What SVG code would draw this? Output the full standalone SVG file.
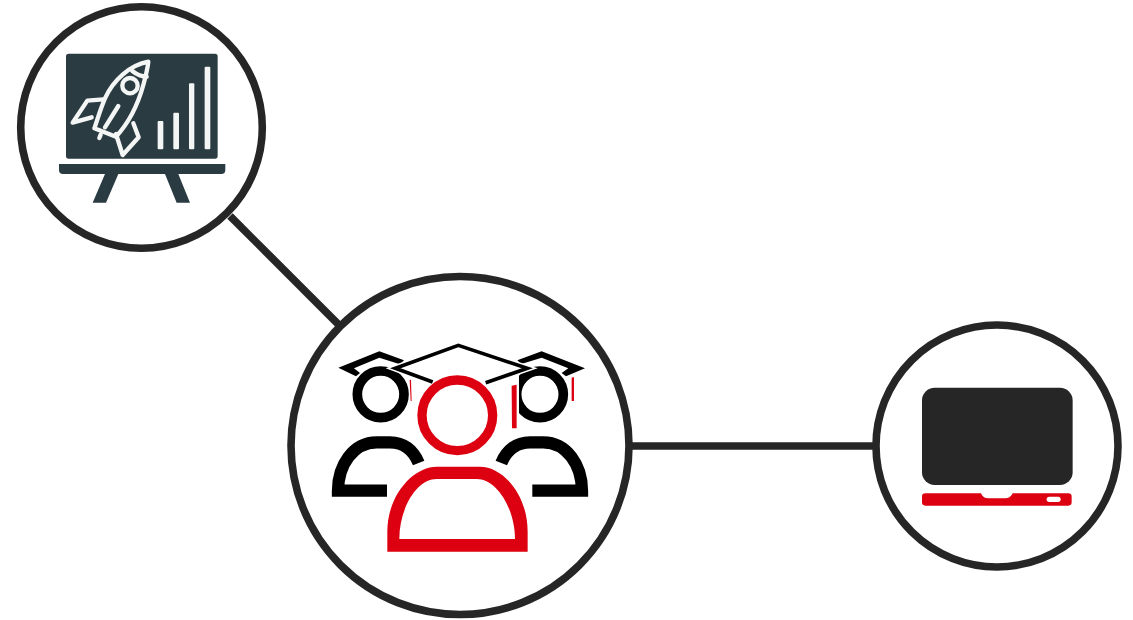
<svg xmlns="http://www.w3.org/2000/svg" width="1133" height="620" viewBox="0 0 1133 620">
<style>
.ring{fill:#fff;stroke:#262626;stroke-width:7.600}
.link{fill:none;stroke:#262626;stroke-width:7.600}
.board{fill:#2a3b41}
.rk{fill:none;stroke:#f4f6f6;stroke-width:13;stroke-linejoin:round;stroke-linecap:round}
.bar{fill:#f4f6f6}
.blk{fill:none;stroke:#000}
.red{fill:#dc0011}
</style>
<rect width="1133" height="620" fill="#fff"/>
<g id="connectors">
<line class="link" x1="230" y1="216" x2="340" y2="326"/>
<line class="link" x1="631" y1="446" x2="877" y2="446"/>
</g>
<g id="node-presentation">
<circle class="ring" cx="141.500" cy="127.500" r="120.800"/>
<g transform="translate(50 40) scale(.3333)">
<rect class="board" x="48" y="41" width="455" height="315" rx="8"/>
<path class="board" d="M27 372H526V390Q526 402 514 402H39Q27 402 27 390Z"/>
<path class="board" d="M165 402H205L168 488H128ZM345 402H385L420 488H380Z"/>
<path class="rk" d="M295 65C240 75 190 120 165 175C150 210 142 240 133 265L198 290C235 250 262 200 280 135C288 105 293 85 295 65Z"/>
<path class="rk" d="M160 178L112 182L68 248L125 232M250 250L266 292L218 345L198 282M247 93C262 105 275 110 290 110M205 198L165 262M148 294L152 284"/>
<circle cx="240" cy="137" r="23" class="rk"/>
<rect class="bar" x="323" y="243" width="17" height="85" rx="3"/>
<rect class="bar" x="370" y="218" width="17" height="110" rx="3"/>
<rect class="bar" x="417" y="130" width="16" height="198" rx="3"/>
<rect class="bar" x="464" y="80" width="17" height="248" rx="3"/>
</g>
</g>
<g id="node-students">
<circle class="ring" cx="460" cy="445.500" r="169"/>
<g transform="translate(320 335) scale(.3333)">
<circle class="blk" cx="182" cy="178" r="70" stroke-width="29"/>
<circle class="blk" cx="660" cy="178" r="70" stroke-width="29"/>
<rect x="570" y="120" width="27" height="122" fill="#fff"/>
<path fill="#000" d="M55 98L178 49L252 76L240 88L178 68L102 100L120 114L108 124Z"/>
<path fill="#000" d="M795 100L665 49L592 76L604 87L665 68L745 100L725 114L738 124Z"/>
<path d="M338 141L226 100L415 31L622 100L497 143" fill="none" stroke="#fff" stroke-width="20"/>
<path d="M338 141L226 100L415 31L622 100L497 143" fill="none" stroke="#000" stroke-width="11"/>
<path class="blk" stroke-width="37" d="M201 467H54C54 390 100 322 170 322H210C250 322 280 345 296 384"/>
<path class="blk" stroke-width="37" d="M637 467H786C786 390 740 322 670 322H630C590 322 560 345 544 384"/>
<circle cx="412" cy="241" r="106" fill="#fff" stroke="#dc0011" stroke-width="28"/>
<path class="red" fill-rule="evenodd" d="M202 650V590C202 480 280 395 350 395H480C550 395 623 480 623 590V650ZM238 612H585C585 520 530 432 470 432H350C290 432 238 520 238 612Z"/>
<path class="red" d="M575 152L590 149V280H576ZM269 135L273 134L275 198L272 198ZM755 128L762 126V198L755 198Z"/>
</g>
</g>
<g id="node-laptop">
<circle class="ring" cx="997" cy="446" r="121"/>
<g transform="translate(910 375) scale(.3333)">
<rect x="36" y="38" width="452" height="292" rx="38" fill="#262626"/>
<path class="red" d="M46 355H213Q218 370 235 370H285Q302 370 308 355H475Q485 355 485 365V382Q485 392 475 392H46Q36 392 36 382V365Q36 355 46 355Z"/>
<rect x="410" y="365" width="42" height="16" rx="8" fill="#fff"/>
</g>
</g>
</svg>
